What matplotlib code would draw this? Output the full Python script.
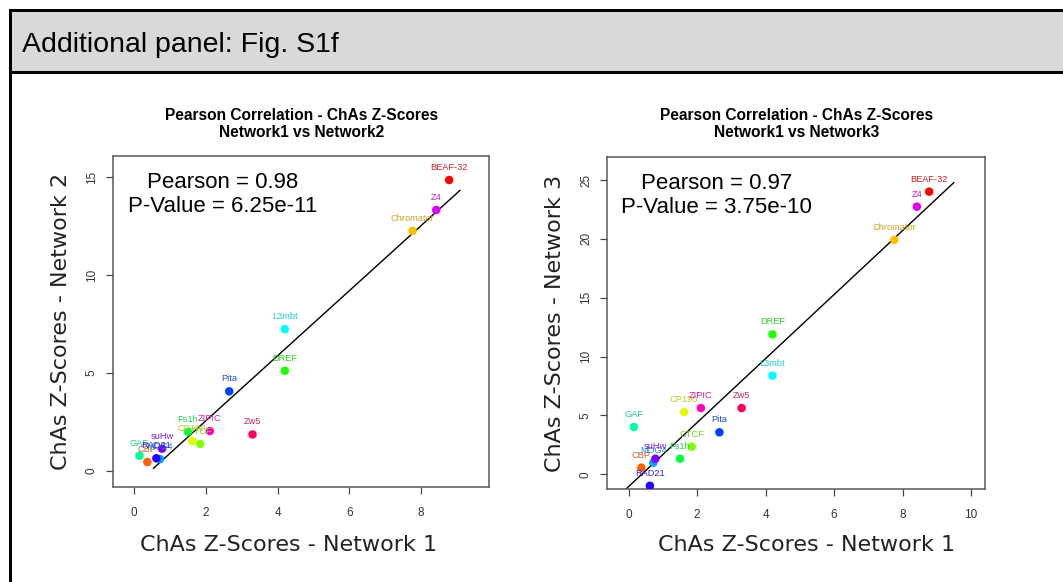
#!/usr/bin/env python3
# ChAs z-score correlation panels: Network1 against Network2 and Network3

import numpy as np
from matplotlib import pyplot as plt
from matplotlib.lines import Line2D
from matplotlib.patches import Rectangle
from matplotlib import colors as mcolors

# Factor names (alphabetical, one rainbow colour each)
factors = ["BEAF-32", "CBP", "Chromator", "CP190", "CTCF", "DREF", "Fs1h", "GAF",
           "L3mbt", "MDG4", "Pita", "RAD21", "suHw", "Z4", "ZIPIC", "Zw5"]
# ChAs z-scores per network
network1 = [8.78, 0.37, 7.76, 1.62, 1.84, 4.20, 1.50, 0.15,
            4.20, 0.72, 2.65, 0.62, 0.78, 8.42, 2.11, 3.30]
network2 = [14.86, 0.46, 12.26, 1.53, 1.38, 5.12, 2.01, 0.78,
            7.24, 0.61, 4.07, 0.65, 1.14, 13.33, 2.04, 1.87]
network3 = [24.01, 0.57, 19.91, 5.29, 2.35, 11.89, 1.33, 4.02,
            8.38, 0.99, 3.57, -0.97, 1.33, 22.74, 5.63, 5.63]
pointColours = ["#FF0000", "#FF6000", "#FFBF00", "#DFFF00", "#80FF00", "#20FF00", "#00FF40", "#00FF9F",
                "#00FFFF", "#009FFF", "#0040FF", "#2000FF", "#8000FF", "#DF00FF", "#FF00BF", "#FF0060"]

W, H = 1063, 582
fig = plt.figure(figsize=(W/100, H/100), dpi=100)
px = 72/fig.dpi

# Header band and frame
fig.patches.append(Rectangle((10/W, 1-72/H), 1, 62/H, transform=fig.transFigure, facecolor="#D9D9D9", edgecolor="none"))
for xs, ys in [((9.5/W, 9.5/W), (0, 1-9.5/H)), ((9.5/W, 1), (1-9.5/H, 1-9.5/H)), ((9.5/W, 1), (1-72/H, 1-72/H))]:
    fig.add_artist(Line2D(xs, ys, transform=fig.transFigure, color="black", linewidth=3*px))
fig.text(22/W, 1-45/H, "Additional panel: Fig. S1f", fontsize=20.5, family="Liberation Sans",
         va="center", ha="left")


def label_colour(c):
    rgb = np.array(mcolors.to_rgb(c))
    return tuple(rgb*0.68 + 0.32*0.4)


def plot_panel(rect, yValues, netName, xlim, ylim, yticks, xticks, pearsonText, lineRange, xlabelCentre):
    ax = fig.add_axes(rect)
    ax.scatter(network1, yValues, s=(8.5*px)**2, c=pointColours, edgecolors="none", zorder=3)
    for name, x, y, c in zip(factors, network1, yValues, pointColours):
        ax.annotate(name, (x, y), xytext=(0, 12.5*px), textcoords="offset points", ha="center", va="center",
                    fontsize=6.7, family="Liberation Sans", color=label_colour(c), zorder=4)
    # Least-squares fit
    slope, intercept = np.polyfit(network1, yValues, 1)
    lx = np.array(lineRange)
    ax.plot(lx, slope*lx + intercept, color="black", linewidth=1.4*px, zorder=2)
    ax.set_xlim(xlim)
    ax.set_ylim(ylim)
    ax.set_xticks(xticks)
    ax.set_yticks(yticks)
    ax.tick_params(length=7*px, width=1.2*px, color="#444444", labelsize=8.5, labelcolor="#333333")
    ax.tick_params(axis="x", pad=9)
    ax.tick_params(axis="y", pad=6)
    for lab in ax.get_yticklabels():
        lab.set_rotation(90)
        lab.set_va("center")
        lab.set_family("Liberation Sans")
    for lab in ax.get_xticklabels():
        lab.set_family("Liberation Sans")
    for sp in ax.spines.values():
        sp.set_color("#555555")
        sp.set_linewidth(1.5*px)
    ax.text(0.29, 0.884, pearsonText, transform=ax.transAxes, ha="center", va="center", fontsize=16,
            family="Liberation Sans", linespacing=1.17)
    fig.text(xlabelCentre/W, 1-545/H, "ChAs Z-Scores - Network 1", fontsize=16, color="#222222",
             ha="center", va="center")
    ax.set_ylabel("ChAs Z-Scores - " + netName.replace("Network", "Network "), fontsize=16, labelpad=11,
                  color="#222222")
    cx = rect[0] + rect[2]/2
    fig.text(cx, 1-124/H, "Pearson Correlation - ChAs Z-Scores\nNetwork1 vs " + netName, ha="center", va="center",
             fontsize=11.2, fontweight="bold", family="Liberation Sans", linespacing=1.1)
    return ax


plot_panel([113.3/W, 1-487.3/H, 375.7/W, 331.6/H], network2, "Network2", (-0.58, 9.89), (-0.83, 16.1),
           [0, 5, 10, 15], [0, 2, 4, 6, 8], "Pearson = 0.98\nP-Value = 6.25e-11", (0.54, 9.08), 288.5)
plot_panel([607.3/W, 1-489.3/H, 377.7/W, 332.6/H], network3, "Network3", (-0.625, 10.41), (-1.27, 26.98),
           [0, 5, 10, 15, 20, 25], [0, 2, 4, 6, 8, 10], "Pearson = 0.97\nP-Value = 3.75e-10", (-0.5, 9.5), 806.5)

fig.savefig("out.png", dpi=100)
